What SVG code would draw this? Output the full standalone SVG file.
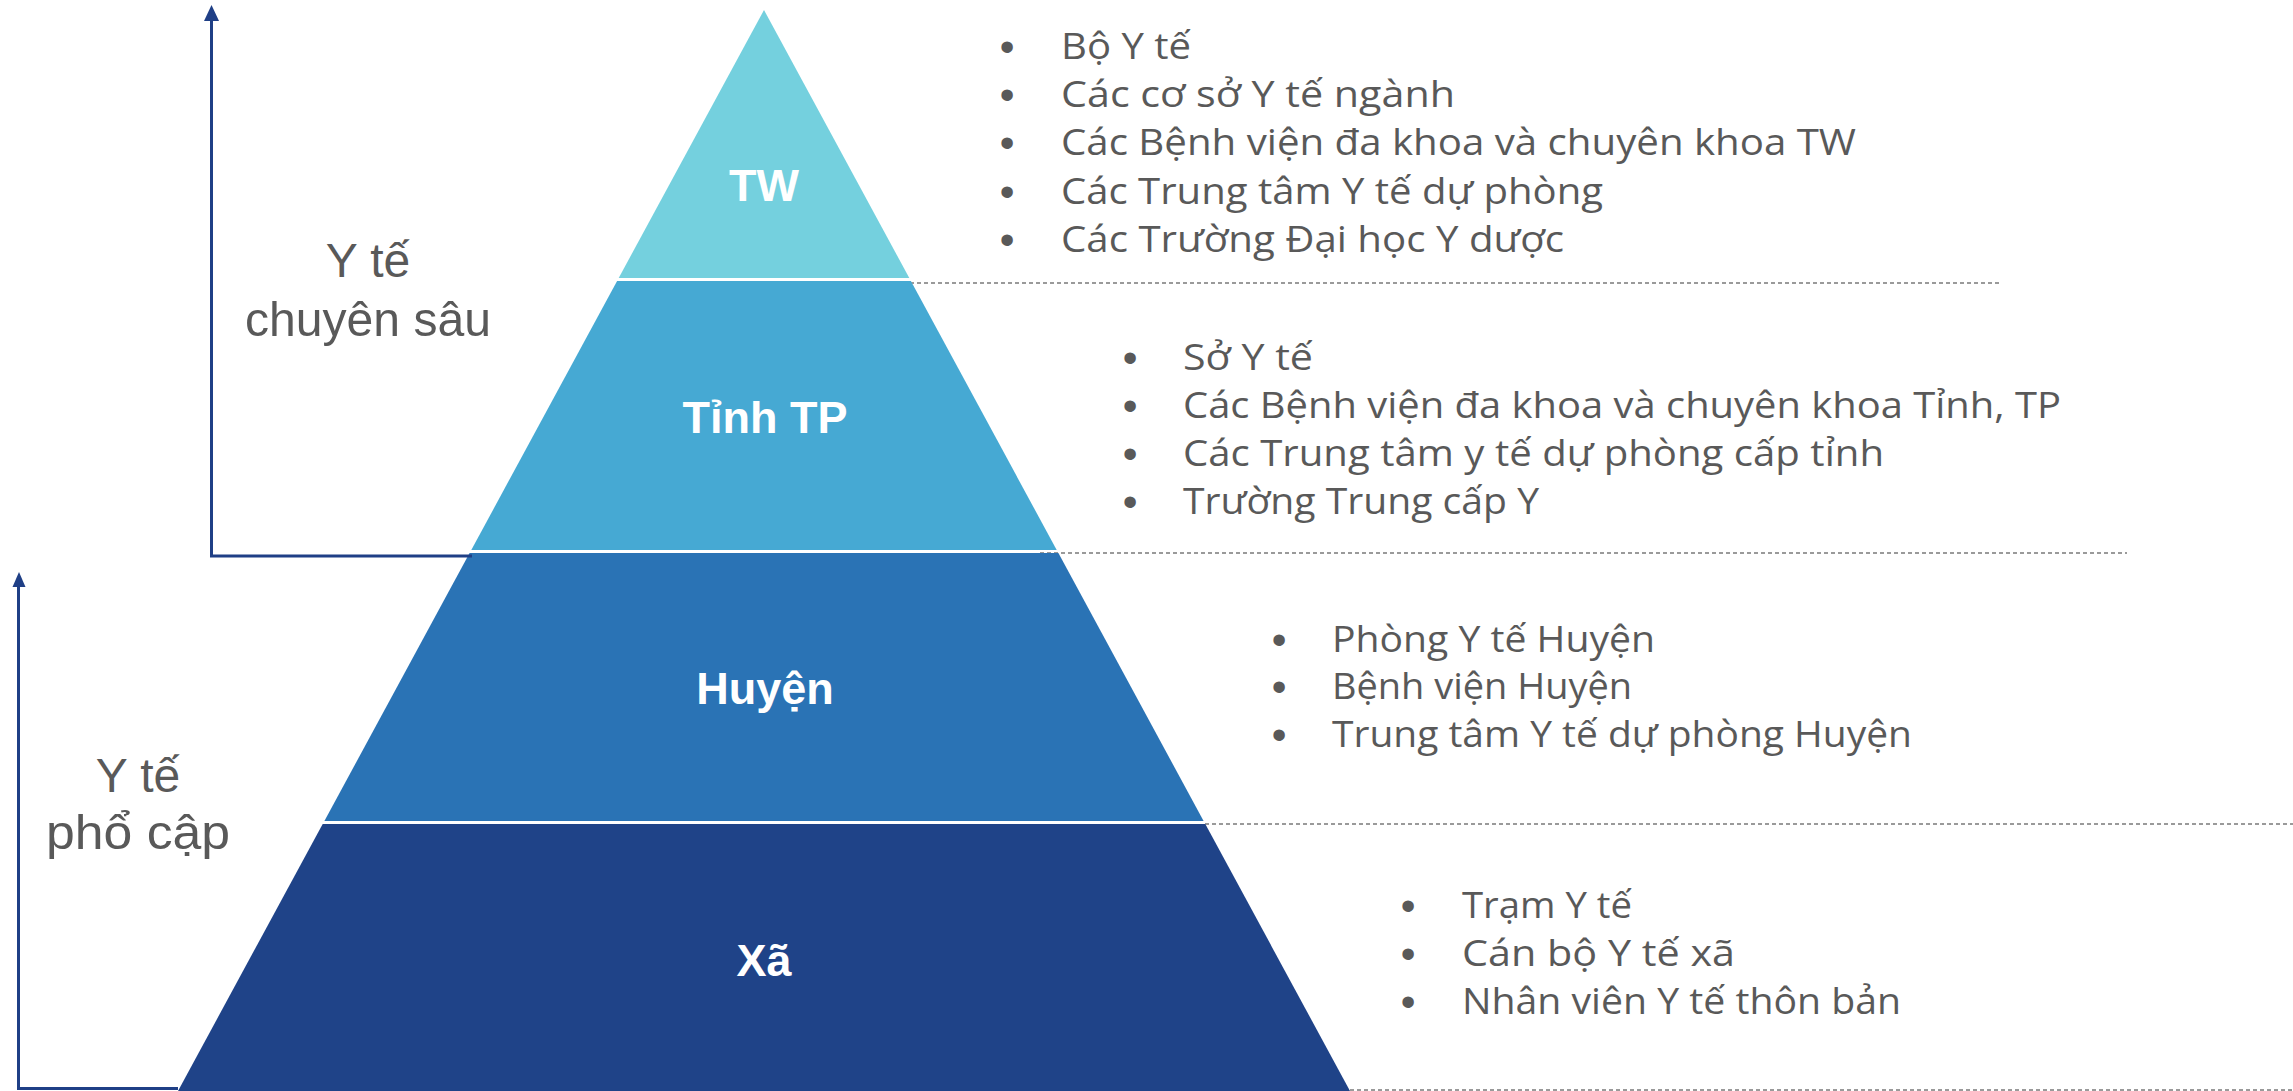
<svg xmlns="http://www.w3.org/2000/svg" width="2293" height="1091" viewBox="0 0 2293 1091">
  <style>
    .tier-label { font-family: "Liberation Sans", Arial, sans-serif; font-weight: bold; font-size: 45px; fill: #ffffff; text-anchor: middle; }
    .side-label { font-family: "Liberation Sans", Arial, sans-serif; font-size: 48px; fill: #595959; text-anchor: middle; }
    .item { font-family: "Open Sans", "Noto Sans", sans-serif; font-size: 36px; fill: #595959; }
    .bullet { font-family: "Liberation Sans", Arial, sans-serif; font-size: 42px; fill: #595959; text-anchor: middle; }
    .divider { stroke: #7a7a7a; stroke-width: 1.5; stroke-dasharray: 4 3; fill: none; }
    .axis { stroke: #1f3f86; stroke-width: 3; fill: none; }
    .head { fill: #1f3f86; }
  </style>

  <rect width="2293" height="1091" fill="#ffffff"/>

  <!-- dashed separators between tiers -->
  <g id="dividers">
    <line class="divider" x1="910" y1="283" x2="2002" y2="283"/>
    <line class="divider" x1="1040" y1="553" x2="2127" y2="553"/>
    <line class="divider" x1="1205" y1="824" x2="2293" y2="824"/>
    <line class="divider" x1="1350" y1="1090" x2="2293" y2="1090"/>
  </g>

  <!-- pyramid tiers -->
  <g id="tier-tw">
    <polygon points="764,10 909.3,278 618.7,278" fill="#74d0de"/>
    <text class="tier-label" x="764" y="201">TW</text>
  </g>
  <g id="tier-tinh">
    <polygon points="617.1,281 910.9,281 1056.7,550 471.3,550" fill="#46a9d3"/>
    <text class="tier-label" x="765" y="433">Tỉnh TP</text>
  </g>
  <g id="tier-huyen">
    <polygon points="469.6,553 1058.4,553 1203.6,821 324.4,821" fill="#2a73b5"/>
    <text class="tier-label" x="765" y="704">Huyện</text>
  </g>
  <g id="tier-xa">
    <polygon points="322.7,824 1205.3,824 1350,1091 178,1091" fill="#1f4388"/>
    <text class="tier-label" x="764" y="976">Xã</text>
  </g>

  <!-- axis connectors -->
  <g id="connectors">
    <path class="axis" d="M472 556 L211.5 556 L211.5 20" />
    <path class="head" d="M211.5 5 L219 21 L204 21 Z"/>
    <path class="axis" d="M178 1088.5 L18.5 1088.5 L18.5 585" />
    <path class="head" d="M19 572 L25.5 587 L12.5 587 Z"/>
  </g>

  <!-- side captions -->
  <g id="label-chuyen-sau">
    <text class="side-label" x="368" y="277">Y tế</text>
    <text class="side-label" x="368" y="336" textLength="246" lengthAdjust="spacingAndGlyphs">chuyên sâu</text>
  </g>
  <g id="label-pho-cap">
    <text class="side-label" x="138" y="792">Y tế</text>
    <text class="side-label" x="138" y="849" textLength="184" lengthAdjust="spacingAndGlyphs">phổ cập</text>
  </g>

  <!-- item lists -->
  <g id="list-tw">
    <text class="bullet" x="1007" y="61">•</text>
    <text class="item" x="1061" y="59" textLength="130" lengthAdjust="spacingAndGlyphs">Bộ Y tế</text>
    <text class="bullet" x="1007" y="109">•</text>
    <text class="item" x="1061" y="107" textLength="394" lengthAdjust="spacingAndGlyphs">Các cơ sở Y tế ngành</text>
    <text class="bullet" x="1007" y="157">•</text>
    <text class="item" x="1061" y="155" textLength="795" lengthAdjust="spacingAndGlyphs">Các Bệnh viện đa khoa và chuyên khoa TW</text>
    <text class="bullet" x="1007" y="206">•</text>
    <text class="item" x="1061" y="204" textLength="542" lengthAdjust="spacingAndGlyphs">Các Trung tâm Y tế dự phòng</text>
    <text class="bullet" x="1007" y="254">•</text>
    <text class="item" x="1061" y="252" textLength="503" lengthAdjust="spacingAndGlyphs">Các Trường Đại học Y dược</text>
  </g>
  <g id="list-tinh">
    <text class="bullet" x="1130" y="372">•</text>
    <text class="item" x="1183" y="370" textLength="130" lengthAdjust="spacingAndGlyphs">Sở Y tế</text>
    <text class="bullet" x="1130" y="420">•</text>
    <text class="item" x="1183" y="418" textLength="878" lengthAdjust="spacingAndGlyphs">Các Bệnh viện đa khoa và chuyên khoa Tỉnh, TP</text>
    <text class="bullet" x="1130" y="468">•</text>
    <text class="item" x="1183" y="466" textLength="701" lengthAdjust="spacingAndGlyphs">Các Trung tâm y tế dự phòng cấp tỉnh</text>
    <text class="bullet" x="1130" y="516">•</text>
    <text class="item" x="1183" y="514" textLength="356" lengthAdjust="spacingAndGlyphs">Trường Trung cấp Y</text>
  </g>
  <g id="list-huyen">
    <text class="bullet" x="1279" y="654">•</text>
    <text class="item" x="1332" y="652" textLength="323" lengthAdjust="spacingAndGlyphs">Phòng Y tế Huyện</text>
    <text class="bullet" x="1279" y="701">•</text>
    <text class="item" x="1332" y="699" textLength="300" lengthAdjust="spacingAndGlyphs">Bệnh viện Huyện</text>
    <text class="bullet" x="1279" y="749">•</text>
    <text class="item" x="1332" y="747" textLength="580" lengthAdjust="spacingAndGlyphs">Trung tâm Y tế dự phòng Huyện</text>
  </g>
  <g id="list-xa">
    <text class="bullet" x="1408" y="920">•</text>
    <text class="item" x="1462" y="918" textLength="170" lengthAdjust="spacingAndGlyphs">Trạm Y tế</text>
    <text class="bullet" x="1408" y="968">•</text>
    <text class="item" x="1462" y="966" textLength="273" lengthAdjust="spacingAndGlyphs">Cán bộ Y tế xã</text>
    <text class="bullet" x="1408" y="1016">•</text>
    <text class="item" x="1462" y="1014" textLength="439" lengthAdjust="spacingAndGlyphs">Nhân viên Y tế thôn bản</text>
  </g>
</svg>
